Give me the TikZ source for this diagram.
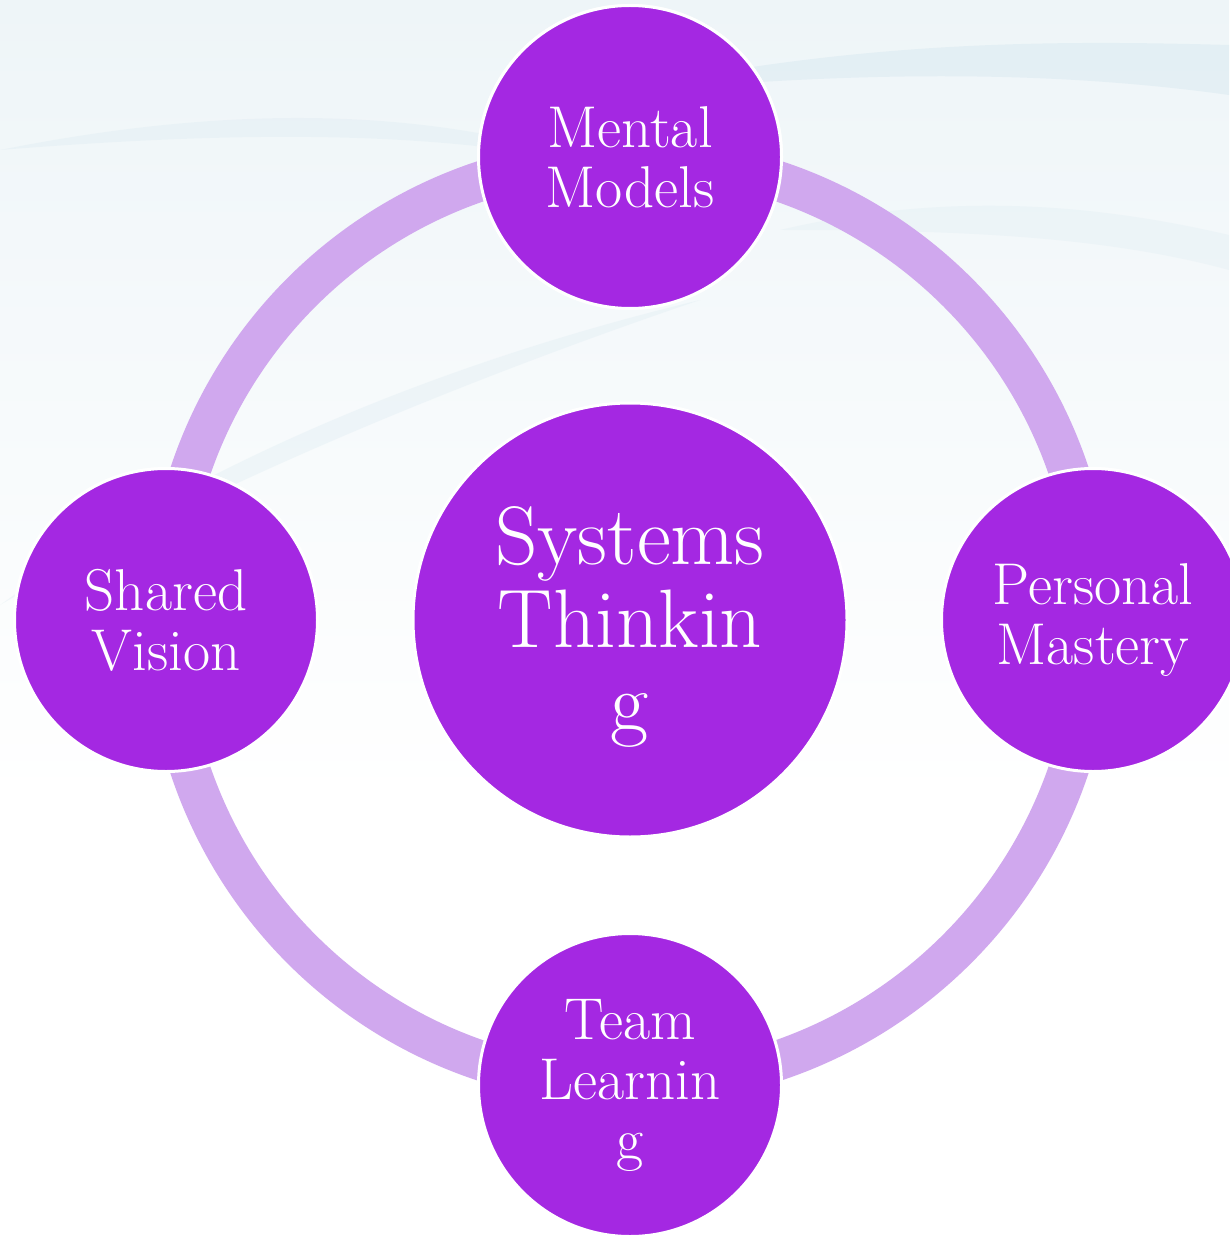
\documentclass[tikz,border=0pt]{standalone}
\definecolor{bgc}{HTML}{EEF5F8}
\definecolor{wave}{HTML}{D3E6EE}
\definecolor{ringc}{HTML}{D0A8EE}
\definecolor{nodec}{HTML}{A428E2}
\tikzset{
  sat/.style={circle, fill=nodec, draw=white, line width=3pt, minimum size=303pt,
    inner sep=0pt, text=white, align=center, font=\fontsize{59}{60}\selectfont},
  hub/.style={sat, minimum size=434pt, font=\fontsize{83}{83}\selectfont},
  ringline/.style={draw=ringc, line width=40pt},
}
\begin{document}
\begin{tikzpicture}[x=1pt,y=-1pt]
\useasboundingbox (0,0) rectangle (1229,1238);
% background
\shade[top color=bgc, bottom color=white] (0,0) rectangle (1229,800);
\fill[white] (0,799) rectangle (1229,1238);
\fill[wave, opacity=0.4] (600,95) .. controls (850,40) and (1050,40) .. (1229,45) -- (1229,95) .. controls (1050,70) and (850,70) .. (600,95) -- cycle;
\fill[wave, opacity=0.25] (0,150) .. controls (250,100) and (450,110) .. (620,170) .. controls (450,130) and (250,130) .. (0,150) -- cycle;
\fill[wave, opacity=0.25] (0,605) .. controls (200,460) and (450,360) .. (700,300) .. controls (450,385) and (200,490) .. (0,605) -- cycle;
\fill[wave, opacity=0.2] (780,230) .. controls (950,190) and (1100,205) .. (1229,235) -- (1229,270) .. controls (1100,235) and (950,230) .. (780,230) -- cycle;
% nodes
\node[sat] (t) at (630,157) {Mental\\Models};
\node[sat] (r) at (1093,620) {Personal\\Mastery};
\node[sat] (b) at (630,1085) {Team\\Learnin\\g};
\node[sat] (l) at (166,620) {Shared\\Vision};
% ring connectors
\path[ringline] (t.center) to[bend left=45] (r.center);
\path[ringline] (r.center) to[bend left=45] (b.center);
\path[ringline] (b.center) to[bend left=45] (l.center);
\path[ringline] (l.center) to[bend left=45] (t.center);
% nodes on top of the ring
\node[hub] (c) at (630,620) {};
\node[text=white, align=center, font=\fontsize{83}{83}\selectfont] (ct) at (630,627) {Systems\\Thinkin\\g};
\node[sat] at (t) {Mental\\Models};
\node[sat] at (r) {Personal\\Mastery};
\node[sat] at (b) {Team\\Learnin\\g};
\node[sat] at (l) {Shared\\Vision};
\end{tikzpicture}
\end{document}
